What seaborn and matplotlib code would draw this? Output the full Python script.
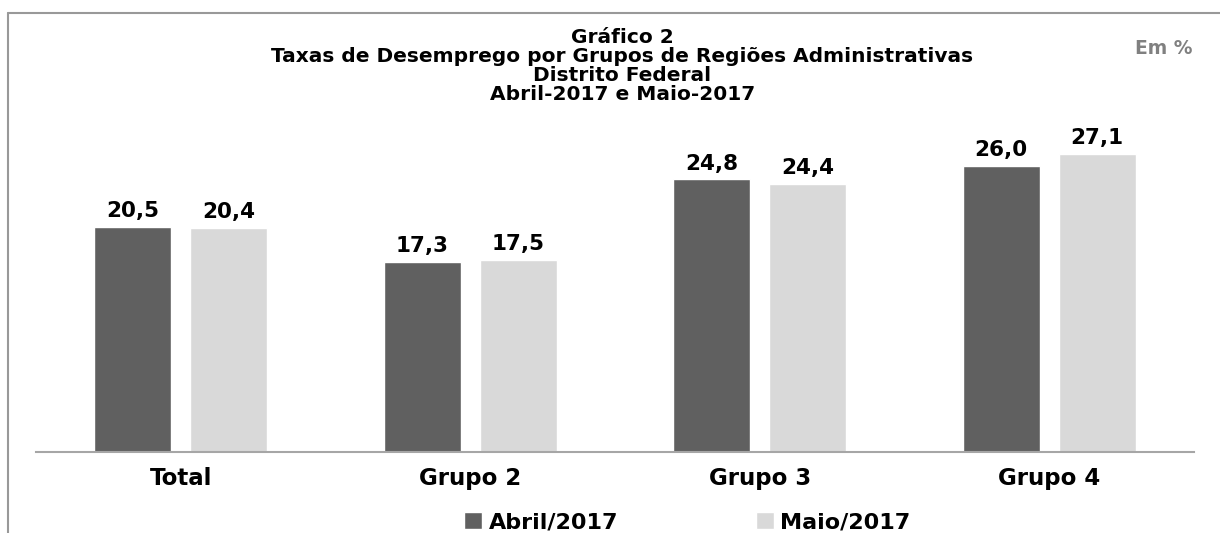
import pandas as pd
import matplotlib.pyplot as plt
import seaborn as sns
from matplotlib.lines import Line2D

# Data
grupos = ["Total", "Grupo 2", "Grupo 3", "Grupo 4"]
abril = [20.5, 17.3, 24.8, 26.0]
maio = [20.4, 17.5, 24.4, 27.1]
periodos = ["Abril/2017", "Maio/2017"]

df = pd.DataFrame({
    "grupo": grupos * 2,
    "taxa": abril + maio,
    "periodo": [periodos[0]] * len(grupos) + [periodos[1]] * len(grupos),
})

dark = "#606060"
light = "#D9D9D9"

sns.set_style("white")
plt.rcParams["font.family"] = ["DejaVu Sans"]

fig = plt.figure(figsize=(12.2, 5.33), dpi=100)
ax = fig.add_axes([36 / 1220, 81 / 533, (1194 - 36) / 1220, 330 / 533])

sns.barplot(data=df, x="grupo", y="taxa", hue="periodo", palette=[dark, light],
            width=0.663, gap=0.2, ax=ax, legend=True, saturation=1)

for cont in ax.containers:
    ax.bar_label(cont, labels=[f"{v:.1f}".replace(".", ",") for v in cont.datavalues],
                 padding=4, fontsize=15.5, fontweight="bold", color="black")

ax.set_ylim(0, 30)
ax.set_xlim(-0.5, 3.5)
ax.set_xlabel("")
ax.set_ylabel("")
ax.set_yticks([])
ax.tick_params(axis="x", length=0, pad=11)
for lab in ax.get_xticklabels():
    lab.set_fontsize(16.5)
    lab.set_fontweight("bold")
    lab.set_color("black")
sns.despine(ax=ax, left=True, top=True, right=True)
ax.spines["bottom"].set_color("#A6A6A6")
ax.spines["bottom"].set_linewidth(1.5)

# legend at bottom
handles, labels = ax.get_legend_handles_labels()
leg = ax.legend(handles, labels, ncol=2, frameon=False, loc="lower left",
                bbox_to_anchor=(464 / 1220, 1 / 533), bbox_transform=fig.transFigure,
                prop={"size": 16, "weight": "bold"}, handlelength=0.8, handleheight=0.8,
                handletextpad=0.3, columnspacing=6.2, borderaxespad=0, borderpad=0)
for t in leg.get_texts():
    t.set_color("black")

# title
fig.text(0.51, 1 - 66 / 533, "Gráfico 2\nTaxas de Desemprego por Grupos de Regiões Administrativas\n"
         "Distrito Federal\nAbril-2017 e Maio-2017",
         ha="center", va="center", fontsize=14.5, fontweight="bold",
         linespacing=1.02, color="black")
fig.text(1164 / 1220, 1 - 49 / 533, "Em %", ha="center", va="center", fontsize=13.5,
         fontweight="bold", color="#808080")

# outer frame
fig.add_artist(Line2D([8 / 1220, 8 / 1220], [0, 1 - 13 / 533], color="#999999", lw=1.5))
fig.add_artist(Line2D([8 / 1220, 1], [1 - 13 / 533, 1 - 13 / 533], color="#999999", lw=1.5))

plt.savefig("out.png", dpi=100)
plt.close()
